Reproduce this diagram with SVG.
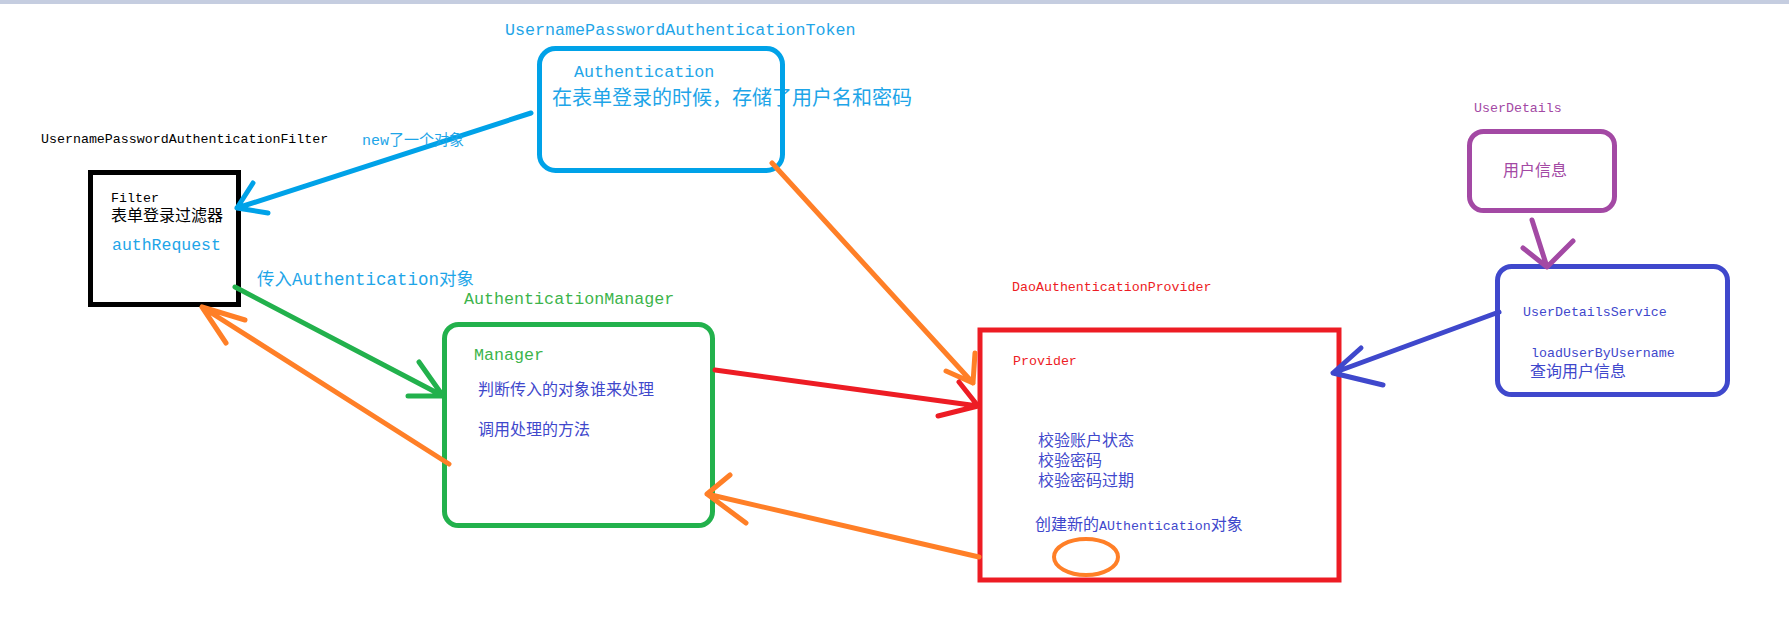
<svg xmlns="http://www.w3.org/2000/svg" width="1789" height="636" viewBox="0 0 1789 636">
<style>
.m{font-family:"Liberation Mono","Noto Sans CJK SC",monospace}
.c{font-family:"Noto Sans CJK SC",sans-serif}
.s13{font-size:13.3px}
.s16{font-size:16.7px}
.cj{font-size:16px}
.lb{fill:#1ea5e8}
.bl{fill:#3f48cc}
.gr{fill:#3cb44b}
.rd{fill:#ed1c24}
.pu{fill:#a349a4}
.k{fill:#000}
.box{fill:none;stroke-width:5}
.ln{fill:none;stroke-width:5;stroke-linecap:round;stroke-linejoin:round}
</style>
<rect x="0" y="0" width="1789" height="636" fill="#fff"/>
<rect x="0" y="0" width="1789" height="4" fill="#c5cde0"/>

<g id="token">
<text class="m s16 lb" x="505" y="35">UsernamePasswordAuthenticationToken</text>
<text class="m s16 lb" x="574" y="77">Authentication</text>
<text class="c lb" font-size="20" x="552" y="105">在表单登录的时候，存储了用户名和密码</text>
<rect class="box" x="539.5" y="48.5" width="243" height="122" rx="16" stroke="#00a2e8"/>
</g>

<g id="filter">
<text class="m s13 k" x="41" y="143">UsernamePasswordAuthenticationFilter</text>
<rect class="box" x="90.5" y="172.5" width="148" height="132" stroke="#000"/>
<text class="m s13 k" x="111" y="202">Filter</text>
<text class="c cj k" x="111" y="221">表单登录过滤器</text>
<text class="m lb" font-size="16.5" x="112" y="250">authRequest</text>
</g>

<g id="manager">
<text class="m s16 gr" x="464" y="304">AuthenticationManager</text>
<rect class="box" x="444.5" y="324.5" width="268" height="201" rx="14" stroke="#22b14c"/>
<text class="m s16 gr" x="474" y="360">Manager</text>
<text class="c cj bl" x="478" y="395">判断传入的对象谁来处理</text>
<text class="c cj bl" x="478" y="435">调用处理的方法</text>
</g>

<g id="provider">
<text class="m s13 rd" x="1012" y="291">DaoAuthenticationProvider</text>
<rect class="box" x="980" y="330" width="359" height="250" stroke="#ed1c24" stroke-width="4.5"/>
<text class="m s13 rd" x="1013" y="365">Provider</text>
<text class="c cj bl" x="1038" y="446">校验账户状态</text>
<text class="c cj bl" x="1038" y="466">校验密码</text>
<text class="c cj bl" x="1038" y="486">校验密码过期</text>
<text class="bl" x="1035" y="530"><tspan class="c cj">创建新的</tspan><tspan class="m s13">AUthentication</tspan><tspan class="c cj">对象</tspan></text>
<ellipse cx="1086" cy="557" rx="32" ry="18" fill="none" stroke="#ff7f27" stroke-width="4"/>
</g>

<g id="userdetails">
<text class="m s13 pu" x="1474" y="112">UserDetails</text>
<rect class="box" x="1469.5" y="131.5" width="145" height="79" rx="14" stroke="#a349a4"/>
<text class="c cj pu" x="1503" y="176">用户信息</text>
</g>

<g id="userdetailsservice">
<rect class="box" x="1497.5" y="266.5" width="230" height="128" rx="14" stroke="#3f48cc"/>
<text class="m s13 bl" x="1523" y="316">UserDetailsService</text>
<text class="m s13 bl" x="1531" y="357">loadUserByUsername</text>
<text class="c cj bl" x="1530" y="377">查询用户信息</text>
</g>

<g id="connectors">
<path class="ln" stroke="#00a2e8" d="M531,113 L237,208 M253,183 L237,208 L268,213"/>
<text class="m lb" font-size="15" x="362" y="145">new了一个对象</text>
<path class="ln" stroke="#22b14c" d="M235,287 L443,396 M419,362 L443,396 L408,396"/>
<text class="m lb" font-size="17.5" x="257" y="285">传入Authentication对象</text>
<path class="ln" stroke="#ff7f27" d="M449,464 L202,307 M245,320 L202,307 L226,343"/>
<path class="ln" stroke="#ff7f27" d="M772,163 L973,383 M975,353 L973,383 L946,371"/>
<path class="ln" stroke="#ed1c24" d="M715,370 L978,406 M959,382 L978,406 L938,416"/>
<path class="ln" stroke="#ff7f27" d="M979,557 L707,494 M730,475 L707,494 L746,523"/>
<path class="ln" stroke="#3f48cc" d="M1499,312 L1333,373 M1361,348 L1333,373 L1383,385"/>
<path class="ln" stroke="#a349a4" d="M1532,220 L1547,267 M1523,248 L1547,267 L1573,241"/>
</g>
</svg>
